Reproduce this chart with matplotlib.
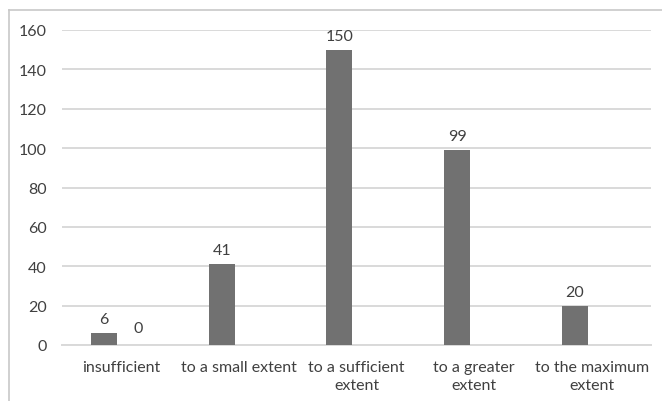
import numpy as np
import matplotlib.pyplot as plt
from matplotlib.lines import Line2D

# Kategorien und Werte (zwei Reihen, die zweite nur mit einem Eintrag)
categories = ["insufficient", "to a small extent", "to a sufficient\nextent",
              "to a greater\nextent", "to the maximum\nextent"]
series_a = [6, 41, 150, 99, 20]
series_b = [0, None, None, None, None]
y_ticks = [0, 20, 40, 60, 80, 100, 120, 140, 160]

plt.rcParams['font.family'] = ['Lato', 'DejaVu Sans']
text_col = "#404040"
bar_col = "#717171"
fs = 11.5

fig = plt.figure(figsize=(6.62, 4.02), dpi=100)
ax = fig.add_axes([62 / 662, 1 - 346 / 402, (651 - 62) / 662, (346 - 31) / 402])

x = np.arange(len(categories))
w = 0.22
off = 0.145

ax.bar(x - off, series_a, width=w, color=bar_col, zorder=3)
for xi, v in zip(x, series_a):
    ax.annotate(str(v), (xi - off, v), xytext=(0, 5), textcoords="offset points",
                ha="center", va="bottom", fontsize=fs, color=text_col)

for xi, v in zip(x, series_b):
    if v is None:
        continue
    ax.bar(xi + off, v, width=w, color=bar_col, zorder=3)
    ax.annotate(str(v), (xi + off, v), xytext=(0, 7), textcoords="offset points",
                ha="center", va="bottom", fontsize=fs, color=text_col)

ax.set_xlim(-0.5, len(categories) - 0.5)
ax.set_ylim(0, 160)
ax.set_yticks(y_ticks)
ax.set_xticks(x)
ax.set_xticklabels(categories, fontsize=fs, color=text_col, linespacing=1.35)
ax.tick_params(axis="y", labelsize=fs, labelcolor=text_col, length=0, pad=11)
ax.tick_params(axis="x", length=0, pad=11)

ax.grid(axis="y", color="#d9d9d9", linewidth=1.4, zorder=0)
for s in ["top", "right", "left"]:
    ax.spines[s].set_visible(False)
ax.spines["bottom"].set_color("#d9d9d9")
ax.spines["bottom"].set_linewidth(1.4)

# Rahmen um das Diagramm
fig.add_artist(Line2D([9 / 662, 1], [1 - 11 / 402] * 2, color="#c8c8c8", linewidth=1.2))
fig.add_artist(Line2D([9 / 662] * 2, [0, 1 - 11 / 402], color="#c8c8c8", linewidth=1.2))

fig.savefig("out.png", dpi=100)
